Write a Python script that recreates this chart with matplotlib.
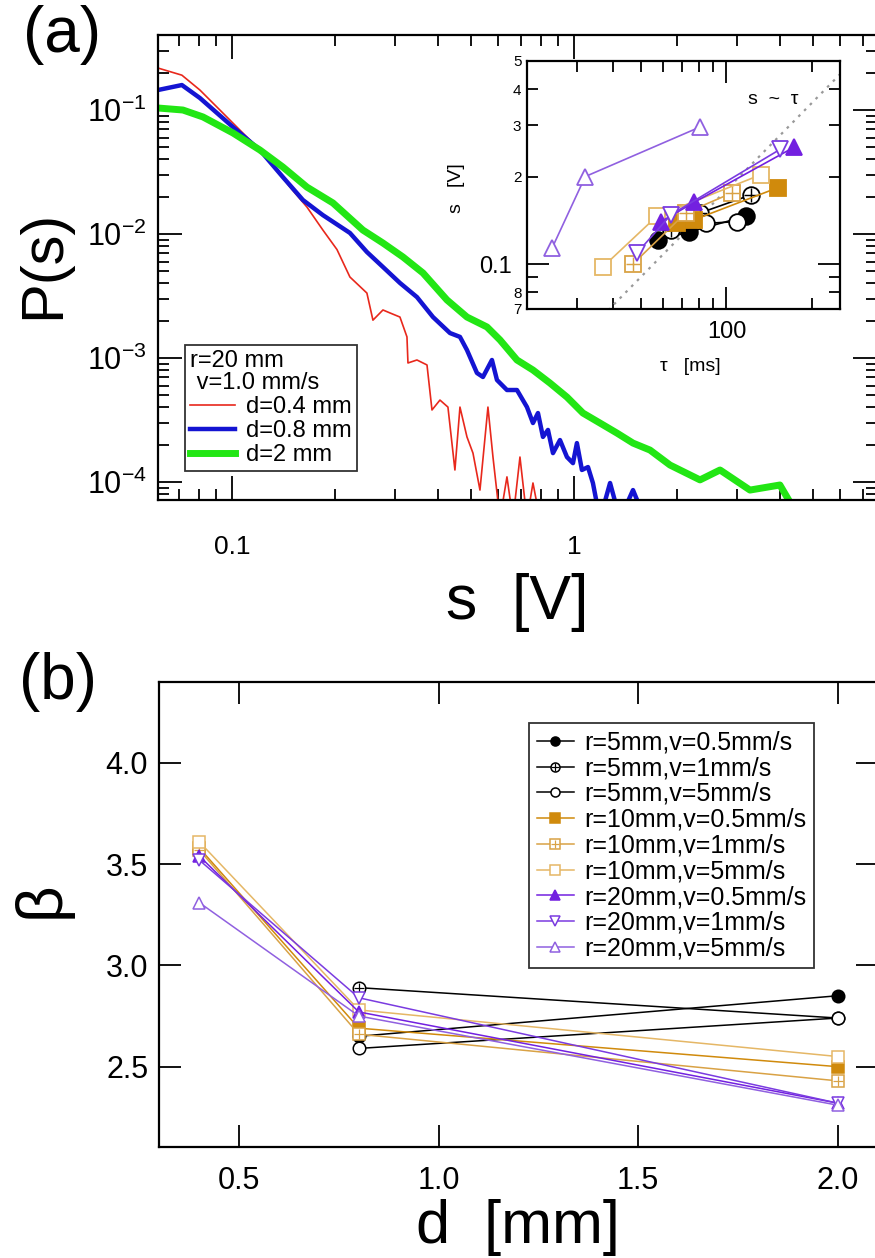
import numpy as np
import matplotlib
matplotlib.use('Agg')
import matplotlib.pyplot as plt
from matplotlib.ticker import FixedLocator, FixedFormatter, NullFormatter
from matplotlib.legend_handler import HandlerTuple
from matplotlib.lines import Line2D

plt.rcParams['font.family'] = ['Liberation Sans', 'DejaVu Sans']
plt.rcParams['mathtext.fontset'] = 'custom'
plt.rcParams['mathtext.rm'] = 'Liberation Sans'
plt.rcParams['mathtext.it'] = 'Liberation Sans:italic'
plt.rcParams['mathtext.bf'] = 'Liberation Sans:bold'

# ---------------- data: panel (a) main, P(s) ----------------
s_d04 = [0.0608, 0.0714, 0.0806, 0.0904, 0.1034, 0.1207, 0.1354, 0.1478, 0.1657, 0.1845,
         0.2028, 0.2213, 0.2481, 0.2584, 0.2764, 0.2897, 0.3099, 0.3249, 0.3271, 0.3475,
         0.3718, 0.3845, 0.4057, 0.4281, 0.4487, 0.4642, 0.4866, 0.5067, 0.5311, 0.5604,
         0.5797, 0.6076, 0.6369, 0.6632, 0.6952, 0.7288, 0.7588, 0.7954]
P_d04 = [0.218, 0.191, 0.145, 0.1057, 0.0729, 0.0476, 0.0328, 0.0239, 0.0165, 0.01076,
         0.0075, 0.0045, 0.00334, 0.00202, 0.00244, 0.00231, 0.00214, 0.00148, 0.000912, 0.000964,
         0.000879, 0.000381, 0.000458, 0.000402, 0.000125, 0.000402, 0.000231, 0.000171, 0.0000861, 0.000402,
         0.000159, 0.00005, 0.000110, 0.00005, 0.000159, 0.00005, 0.0000982, 0.00005]

s_d08 = [0.0608, 0.0714, 0.0806, 0.1007, 0.1207, 0.1409, 0.1613, 0.1845, 0.2213, 0.2481,
         0.2764, 0.3099, 0.3475, 0.3871, 0.4340, 0.4642, 0.4866, 0.5205, 0.5419, 0.5757,
         0.5955, 0.6369, 0.6813, 0.7288, 0.7588, 0.7848, 0.8116, 0.8395, 0.8682, 0.9101,
         0.9539, 0.9933, 1.020, 1.055, 1.099, 1.136, 1.191, 1.275, 1.363, 1.488, 1.613]
P_d08 = [0.145, 0.159, 0.125, 0.0729, 0.0476, 0.0288, 0.0188, 0.0142, 0.0102, 0.00716,
         0.00542, 0.00403, 0.00310, 0.00214, 0.00159, 0.00148, 0.00116, 0.000757, 0.000703, 0.000964,
         0.000665, 0.000552, 0.000552, 0.000402, 0.000299, 0.000360, 0.000231, 0.000263, 0.000171, 0.000218,
         0.000159, 0.000142, 0.000206, 0.000125, 0.000132, 0.0000982, 0.00005, 0.0000982, 0.00005, 0.0000861, 0.00005]

s_d2 = [0.0608, 0.0719, 0.0823, 0.1007, 0.1207, 0.1409, 0.1657, 0.1974, 0.2415, 0.2764,
        0.3162, 0.3619, 0.4253, 0.4866, 0.5567, 0.6076, 0.6813, 0.7588, 0.8508, 0.9539,
        1.062, 1.191, 1.336, 1.488, 1.668, 1.909, 2.336, 2.673, 3.27, 4.00, 4.58]
P_d2 = [0.1038, 0.100, 0.0879, 0.0653, 0.0476, 0.0347, 0.0239, 0.0178, 0.01076, 0.00846,
        0.00653, 0.00485, 0.00294, 0.00214, 0.00178, 0.00140, 0.000964, 0.000800, 0.000628, 0.000484,
        0.000360, 0.000299, 0.000248, 0.000206, 0.000181, 0.000137, 0.000104, 0.000125, 0.0000861, 0.0000946, 0.00005]

# ---------------- data: inset, s vs tau ----------------
tau_r5_v05 = [57.5, 74, 117];   sv_r5_v05 = [0.121, 0.129, 0.146]
tau_r5_v1 = [64, 81, 122];      sv_r5_v1 = [0.131, 0.150, 0.173]
tau_r5_v5 = [62, 85, 109];      sv_r5_v5 = [0.140, 0.138, 0.140]
tau_r10_v05 = [67, 77, 151];    sv_r10_v05 = [0.138, 0.142, 0.183]
tau_r10_v1 = [47, 72, 105];     sv_r10_v1 = [0.100, 0.150, 0.176]
tau_r10_v5 = [37, 57, 132];     sv_r10_v5 = [0.098, 0.146, 0.203]
tau_r20_v05 = [59, 77, 172];    sv_r20_v05 = [0.140, 0.163, 0.252]
tau_r20_v1 = [48.5, 64, 154];   sv_r20_v1 = [0.109, 0.148, 0.248]
tau_r20_v5 = [24.5, 32, 80.6];  sv_r20_v5 = [0.1136, 0.200, 0.296]
guide_tau = [10, 1000]
guide_s = [0.018, 1.8]

# ---------------- data: panel (b), beta vs d ----------------
d_vals = [0.4, 0.8, 2.0]
beta_r5_v05 = [np.nan, 2.65, 2.85]
beta_r5_v1 = [np.nan, 2.89, 2.74]
beta_r5_v5 = [np.nan, 2.59, 2.74]
beta_r10_v05 = [3.58, 2.69, 2.50]
beta_r10_v1 = [3.57, 2.66, 2.43]
beta_r10_v5 = [3.61, 2.78, 2.55]
beta_r20_v05 = [3.54, 2.77, 2.32]
beta_r20_v1 = [3.52, 2.84, 2.32]
beta_r20_v5 = [3.31, 2.75, 2.31]

series_labels = ['r=5mm,v=0.5mm/s', 'r=5mm,v=1mm/s', 'r=5mm,v=5mm/s',
                 'r=10mm,v=0.5mm/s', 'r=10mm,v=1mm/s', 'r=10mm,v=5mm/s',
                 'r=20mm,v=0.5mm/s', 'r=20mm,v=1mm/s', 'r=20mm,v=5mm/s']

W, H = 875, 1258
fig = plt.figure(figsize=(W / 100, H / 100), dpi=100)


def box(l, t, r, b):
    return [l / W, 1 - b / H, (r - l) / W, (b - t) / H]


def fx(px):
    return px / W


def fy(py):
    return 1 - py / H

# styles for the 9 series
C_BLK = '#000000'
C_OR1 = '#D08A0C'
C_OR2 = '#D9A245'
C_OR3 = '#E5B766'
C_PU1 = '#7320E0'
C_PU2 = '#7A3BE0'
C_PU3 = '#9060E0'
styles = [
    dict(color=C_BLK, marker='o', mfc=C_BLK, plus=False),
    dict(color=C_BLK, marker='o', mfc='white', plus=True),
    dict(color=C_BLK, marker='o', mfc='white', plus=False),
    dict(color=C_OR1, marker='s', mfc=C_OR1, plus=False),
    dict(color=C_OR2, marker='s', mfc='white', plus=True),
    dict(color=C_OR3, marker='s', mfc='white', plus=False),
    dict(color=C_PU1, marker='^', mfc=C_PU1, plus=False),
    dict(color=C_PU2, marker='v', mfc='white', plus=False),
    dict(color=C_PU3, marker='^', mfc='white', plus=False),
]


def draw_series(ax, x, y, st, ms, lw, mew):
    ax.plot(x, y, color=st['color'], lw=lw, marker=st['marker'], ms=ms,
            mfc=st['mfc'], mec=st['color'], mew=mew, clip_on=False)
    if st['plus']:
        ax.plot(x, y, ls='none', marker='+', ms=ms * 0.8, mec=st['color'], mew=mew * 0.8,
                clip_on=False)


def legend_handle(st, ms, lw, mew):
    h1 = Line2D([], [], color=st['color'], lw=lw, marker=st['marker'], ms=ms,
                mfc=st['mfc'], mec=st['color'], mew=mew)
    if st['plus']:
        h2 = Line2D([], [], ls='none', marker='+', ms=ms * 0.8, mec=st['color'], mew=mew * 0.8)
        return (h1, h2)
    return h1

# ================= panel (a) =================
axa = fig.add_axes(box(158, 35, 877, 500))
axa.set_xscale('log')
axa.set_yscale('log')
axa.plot(s_d04, P_d04, color='#E8281C', lw=1.2, label='d=0.4 mm')
axa.plot(s_d08, P_d08, color='#1414D2', lw=3.2, label='d=0.8 mm')
axa.plot(s_d2, P_d2, color='#22E614', lw=5.0, label='d=2 mm')
axa.set_xlim(0.0608, 7.69)
axa.set_ylim(7.16e-5, 0.4027)

axa.xaxis.set_major_locator(FixedLocator([0.1, 1]))
axa.xaxis.set_major_formatter(FixedFormatter(['0.1', '1']))
axa.xaxis.set_minor_locator(FixedLocator([0.07, 0.08, 0.09] + [k / 10 for k in range(2, 10)] + [2, 3, 4, 5, 6, 7]))
axa.xaxis.set_minor_formatter(NullFormatter())
axa.yaxis.set_major_locator(FixedLocator([1e-4, 1e-3, 1e-2, 1e-1]))
axa.yaxis.set_major_formatter(FixedFormatter([r'$\mathregular{10^{-4}}$', r'$\mathregular{10^{-3}}$',
                                              r'$\mathregular{10^{-2}}$', r'$\mathregular{10^{-1}}$']))
ymin_loc = []
for e in (-5, -4, -3, -2, -1):
    for k in range(2, 10):
        ymin_loc.append(k * 10.0 ** e)
axa.yaxis.set_minor_locator(FixedLocator(ymin_loc))
axa.yaxis.set_minor_formatter(NullFormatter())
axa.tick_params(which='both', direction='in', top=True, right=True, width=1.3)
axa.tick_params(which='major', length=17)
axa.tick_params(which='minor', length=8)
axa.tick_params(axis='x', which='major', pad=25, labelsize=19)
axa.tick_params(axis='y', which='major', pad=8, labelsize=22)
for sp in axa.spines.values():
    sp.set_linewidth(1.6)

leg = axa.legend(title='r=20 mm\n v=1.0 mm/s', loc='upper left',
                 bbox_to_anchor=((185 - 158) / 719, (500 - 345) / 465),
                 fontsize=17, title_fontsize=17, alignment='left', frameon=True, fancybox=False,
                 edgecolor='black', handlelength=1.9, handletextpad=0.45, labelspacing=0.08,
                 borderpad=0.22, borderaxespad=0)
leg.get_frame().set_linewidth(1.3)
leg.get_title().set_linespacing(1.0)

fig.text(fx(62), fy(35), '(a)', fontsize=46, ha='center', va='center')
fig.text(fx(44), fy(264), 'P(s)', fontsize=43, rotation=90, ha='center', va='center')
fig.text(fx(517), fy(602), 's  [V]', fontsize=45, ha='center', va='center')

# ================= inset =================
axi = fig.add_axes(box(527, 61, 840, 309))
axi.set_xscale('log')
axi.set_yscale('log')
axi.plot(guide_tau, guide_s, color='#999999', lw=1.6, ls=(0, (1.2, 2.5)))
inset_data = [(tau_r5_v05, sv_r5_v05), (tau_r5_v1, sv_r5_v1), (tau_r5_v5, sv_r5_v5),
              (tau_r10_v05, sv_r10_v05), (tau_r10_v1, sv_r10_v1), (tau_r10_v5, sv_r10_v5),
              (tau_r20_v05, sv_r20_v05), (tau_r20_v1, sv_r20_v1), (tau_r20_v5, sv_r20_v5)]
for (tx, sy), st in zip(inset_data, styles):
    draw_series(axi, tx, sy, st, ms=12, lw=1.2, mew=1.3)
axi.set_xlim(20, 250)
axi.set_ylim(0.07, 0.5)
axi.xaxis.set_major_locator(FixedLocator([100]))
axi.xaxis.set_major_formatter(FixedFormatter(['100']))
axi.xaxis.set_minor_locator(FixedLocator([30, 40, 50, 60, 70, 80, 90, 200]))
axi.xaxis.set_minor_formatter(NullFormatter())
axi.yaxis.set_major_locator(FixedLocator([0.1]))
axi.yaxis.set_major_formatter(FixedFormatter(['0.1']))
axi.yaxis.set_minor_locator(FixedLocator([0.07, 0.08, 0.09, 0.2, 0.3, 0.4, 0.5]))
axi.yaxis.set_minor_formatter(FixedFormatter(['7', '8', '', '2', '3', '4', '5']))
axi.tick_params(which='both', direction='in', top=True, right=True, width=1.3)
axi.tick_params(which='major', length=16, labelsize=17)
axi.tick_params(axis='y', which='major', pad=11)
axi.tick_params(axis='x', which='major', pad=9)
axi.tick_params(which='minor', length=8, labelsize=11, pad=4)
for sp in axi.spines.values():
    sp.set_linewidth(1.6)
fig.text(fx(457), fy(188), 's   [V]', fontsize=14, rotation=90, ha='center', va='center')
fig.text(fx(690), fy(366), 'τ   [ms]', fontsize=14, ha='center', va='center')
fig.text(fx(773), fy(99), 's  ~  τ', fontsize=14, ha='center', va='center')

# ================= panel (b) =================
axb = fig.add_axes(box(159.3, 681.7, 877.6, 1146.7))
beta_data = [beta_r5_v05, beta_r5_v1, beta_r5_v5, beta_r10_v05, beta_r10_v1, beta_r10_v5,
             beta_r20_v05, beta_r20_v1, beta_r20_v5]
for yv, st in zip(beta_data, styles):
    draw_series(axb, d_vals, yv, st, ms=9, lw=1.1, mew=1.1)
axb.set_xlim(0.3, 2.1)
axb.set_ylim(2.105, 4.4)
axb.set_xticks([0.5, 1.0, 1.5, 2.0])
axb.set_xticklabels(['0.5', '1.0', '1.5', '2.0'])
axb.set_yticks([2.5, 3.0, 3.5, 4.0])
axb.set_yticklabels(['2.5', '3.0', '3.5', '4.0'])
axb.tick_params(which='both', direction='in', top=True, right=True, width=1.3)
axb.tick_params(which='major', length=16, labelsize=22)
axb.tick_params(axis='x', pad=14)
axb.tick_params(axis='y', pad=8)
for sp in axb.spines.values():
    sp.set_linewidth(1.6)

leg_handles = [legend_handle(st, ms=6.5, lw=1.1, mew=1.1) for st in styles]
legb = axb.legend(leg_handles, series_labels, loc='upper left',
                  bbox_to_anchor=((529 - 159.3) / 718.3, (1146.7 - 723) / 465),
                  fontsize=18, frameon=True, fancybox=False, edgecolor='black',
                  handlelength=1.5, handletextpad=0.4, labelspacing=0.07, borderpad=0.3,
                  borderaxespad=0, handler_map={tuple: HandlerTuple(ndivide=1, pad=0)})
legb.get_frame().set_linewidth(1.3)

fig.text(fx(58), fy(682), '(b)', fontsize=46, ha='center', va='center')
fig.text(fx(42), fy(900), 'β', fontsize=46, rotation=90, ha='center', va='center')
fig.text(fx(518), fy(1227), 'd  [mm]', fontsize=44, ha='center', va='center')

fig.savefig('out.png', dpi=100)
